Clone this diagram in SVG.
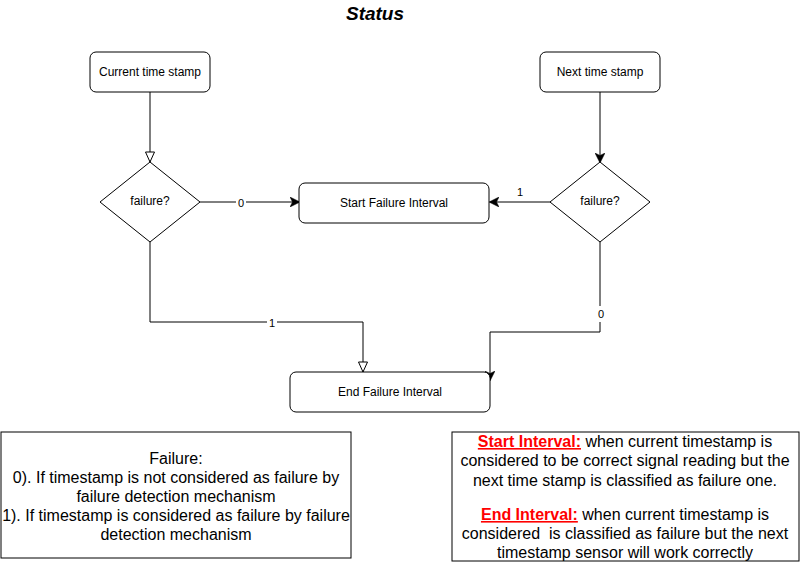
<svg xmlns="http://www.w3.org/2000/svg" width="801" height="563" viewBox="0 0 801 563">
<defs>
<style>
.node{fill:#fff;stroke:#000;stroke-width:1}
.lbl{font-family:"Liberation Sans",Arial,sans-serif;font-size:12px;fill:#000;text-anchor:middle;dominant-baseline:central}
.elbl{font-family:"Liberation Sans",Arial,sans-serif;font-size:11px;fill:#000;text-anchor:middle;dominant-baseline:central}
.note{font-family:"Liberation Sans",Arial,sans-serif;font-size:16px;fill:#000;text-anchor:middle;white-space:pre}
.red{fill:#ff0000;font-weight:bold;text-decoration:underline}
.edge{fill:none;stroke:#000;stroke-width:1}
</style>
<marker id="filled" viewBox="0 0 10 10" refX="9" refY="5" markerWidth="10" markerHeight="10" markerUnits="userSpaceOnUse" orient="auto">
<path d="M0,0 L10,5 L0,10 L2.5,5 Z" fill="#000" stroke="#000" stroke-width="0.5"/>
</marker>
<marker id="hollow" viewBox="0 0 12 12" refX="11" refY="6" markerWidth="12" markerHeight="12" markerUnits="userSpaceOnUse" orient="auto">
<path d="M1,1.5 L11,6 L1,10.5 Z" fill="#fff" stroke="#000" stroke-width="1"/>
</marker>
</defs>
<rect width="801" height="563" fill="#fff"/>
<text x="375" y="20" font-family="'Liberation Sans',Arial,sans-serif" font-size="19" font-weight="bold" font-style="italic" text-anchor="middle">Status</text>

<g id="connectors">
<path class="edge" d="M150,92 L150,162" marker-end="url(#hollow)"/>
<path class="edge" d="M600,92 L600,162" marker-end="url(#filled)"/>
<path class="edge" d="M200,202 L299,202" marker-end="url(#filled)"/>
<rect x="236" y="196" width="10" height="12" fill="#fff"/>
<text class="elbl" x="241" y="203">0</text>
<path class="edge" d="M551,202 L490,202" marker-end="url(#filled)"/>
<text class="elbl" x="520" y="192">1</text>
<path class="edge" d="M150,242 L150,322 L363,322 L363,372" marker-end="url(#hollow)"/>
<rect x="267" y="316" width="10" height="12" fill="#fff"/>
<text class="elbl" x="272" y="323">1</text>
<path class="edge" d="M600,242 L600,332 L490,332 L490,380" marker-end="url(#filled)"/>
<rect x="595" y="306" width="11" height="16" fill="#fff"/>
<text class="elbl" x="601" y="314">0</text>
</g>

<g id="current">
<rect class="node" x="90" y="52" width="120" height="40" rx="6"/>
<text class="lbl" x="150" y="72">Current time stamp</text>
</g>
<g id="next">
<rect class="node" x="540" y="52" width="120" height="40" rx="6"/>
<text class="lbl" x="600" y="72">Next time stamp</text>
</g>
<g id="failure-left">
<path class="node" d="M150,162 L200,202 L150,242 L100,202 Z"/>
<text class="lbl" x="150" y="201">failure?</text>
</g>
<g id="failure-right">
<path class="node" d="M600,162 L650,202 L600,242 L550,202 Z"/>
<text class="lbl" x="600" y="201">failure?</text>
</g>
<g id="start">
<rect class="node" x="299" y="183" width="190" height="40" rx="6"/>
<text class="lbl" x="394" y="203">Start Failure Interval</text>
</g>
<g id="end">
<rect class="node" x="290" y="372" width="200" height="40" rx="6"/>
<text class="lbl" x="390" y="392">End Failure Interval</text>
</g>

<g id="legend-failure">
<rect class="node" x="1" y="432" width="350" height="126"/>
<text class="note" x="176" y="464">Failure:</text>
<text class="note" x="176" y="483">0). If timestamp is not considered as failure by</text>
<text class="note" x="176" y="502">failure detection mechanism</text>
<text class="note" x="176" y="521">1). If timestamp is considered as failure by failure</text>
<text class="note" x="176" y="540">detection mechanism</text>
</g>
<g id="legend-interval">
<rect class="node" x="452" y="432" width="347" height="129"/>
<text class="note" x="625" y="447"><tspan class="red">Start Interval:</tspan> when current timestamp is</text>
<text class="note" x="625" y="466">considered to be correct signal reading but the</text>
<text class="note" x="625" y="486">next time stamp is classified as failure one.</text>
<text class="note" x="625" y="520"><tspan class="red">End Interval:</tspan> when current timestamp is</text>
<text class="note" x="625" y="539">considered  is classified as failure but the next</text>
<text class="note" x="625" y="558">timestamp sensor will work correctly</text>
</g>
</svg>
